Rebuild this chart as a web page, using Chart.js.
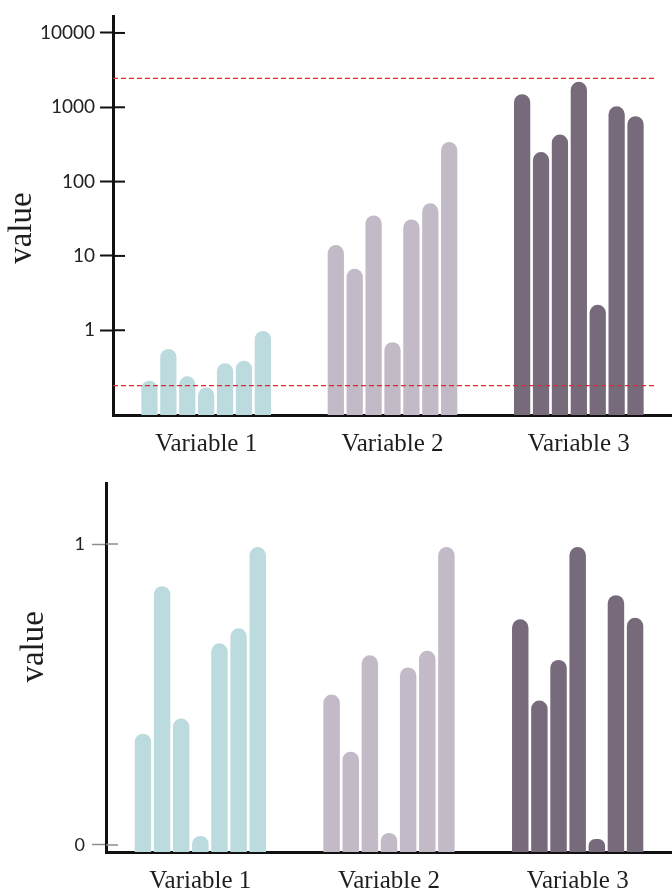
<!DOCTYPE html>
<html>
<head>
<meta charset="utf-8">
<script src="https://cdn.jsdelivr.net/npm/chart.js@4"></script>
<style>
  html, body { margin: 0; padding: 0; background: #fff; }
  canvas { display: block; }
</style>
</head>
<body>
<canvas id="logChart" width="672" height="460"></canvas>
<canvas id="linChart" width="672" height="432"></canvas>
<script>
// categories on the x axis
const categories = ["Variable 1", "Variable 2", "Variable 3"];

// top panel (log scale), 7 samples per variable
const logVar1 = [0.21, 0.56, 0.24, 0.17, 0.36, 0.39, 0.98];
const logVar2 = [14, 6.7, 35, 0.69, 31, 51, 340];
const logVar3 = [1500, 250, 430, 2200, 2.2, 1030, 760];
const logTicks = [1, 10, 100, 1000, 10000];
const logCutoffs = [2450, 0.18];

// bottom panel (normalised 0..1)
const linVar1 = [0.37, 0.86, 0.42, 0.03, 0.67, 0.72, 0.99];
const linVar2 = [0.5, 0.31, 0.63, 0.04, 0.59, 0.645, 0.99];
const linVar3 = [0.75, 0.48, 0.615, 0.99, 0.02, 0.83, 0.755];
const linTicks = [0, 1];

const barColors = ["#bcdbdf", "#c2bac6", "#776a7b"];

// draws the part of each y tick that crosses to the right of the axis
const crossTicks = {
  id: "crossTicks",
  afterDraw(chart, args, opts) {
    const y = chart.scales.y;
    const ctx = chart.ctx;
    ctx.save();
    ctx.strokeStyle = opts.color;
    ctx.lineWidth = opts.width;
    y.ticks.forEach((t) => {
      const py = y.getPixelForValue(t.value);
      ctx.beginPath();
      ctx.moveTo(y.right, py);
      ctx.lineTo(y.right + opts.length, py);
      ctx.stroke();
    });
    ctx.restore();
  },
};

// red dashed cut-off lines
const cutoffLines = {
  id: "cutoffLines",
  afterDatasetsDraw(chart, args, opts) {
    if (!opts.values) return;
    const { ctx, chartArea } = chart;
    const y = chart.scales.y;
    ctx.save();
    ctx.setLineDash([5, 3]);
    ctx.strokeStyle = "#e0262a";
    ctx.lineWidth = 1.4;
    opts.values.forEach((v) => {
      const py = y.getPixelForValue(v);
      ctx.beginPath();
      ctx.moveTo(chartArea.left, py);
      ctx.lineTo(chartArea.right - 17, py);
      ctx.stroke();
    });
    ctx.restore();
  },
};

function buildDatasets(a, b, c, base) {
  return a.map((_, i) => ({
    data: [a[i], b[i], c[i]],
    backgroundColor: barColors,
    borderRadius: 9,
    borderSkipped: "start",
    base: base,
    barPercentage: 0.86,
    categoryPercentage: 0.71,
  }));
}

const serif = "'Liberation Serif', 'Times New Roman', serif";
const sans = "Lato, 'Open Sans', sans-serif";

function makeChart(canvasId, cfg) {
  return new Chart(document.getElementById(canvasId), {
    type: "bar",
    data: {
      labels: categories,
      datasets: buildDatasets(cfg.v1, cfg.v2, cfg.v3, cfg.min),
    },
    options: {
      responsive: false,
      animation: false,
      events: [],
      layout: { padding: { top: cfg.padTop, left: 0, right: 0, bottom: 0 } },
      scales: {
        x: {
          grid: { display: false, drawTicks: false },
          border: { display: true, color: "#111", width: 3 },
          ticks: {
            color: "#1e1e1e",
            padding: 14,
            font: { family: serif, size: 25 },
          },
          afterFit(scale) {
            scale.height = cfg.xHeight;
          },
        },
        y: {
          type: cfg.type,
          min: cfg.min,
          max: cfg.max,
          grid: {
            display: true,
            drawOnChartArea: false,
            drawTicks: true,
            tickLength: cfg.tickLength,
            tickColor: cfg.tickColor,
            tickWidth: cfg.tickWidth,
          },
          border: { display: true, color: "#111", width: 3 },
          ticks: {
            color: "#222",
            padding: cfg.labelPad,
            font: { family: sans, size: cfg.tickFont },
            callback: (v) => String(v),
          },
          afterBuildTicks(scale) {
            scale.ticks = cfg.ticks.map((v) => ({ value: v }));
          },
          afterFit(scale) {
            scale.width = cfg.yWidth;
          },
          title: {
            display: true,
            // surrounding spaces nudge the centred word along the axis
            text: cfg.title,
            color: "#1e1e1e",
            padding: { top: cfg.titlePad, bottom: 0 },
            font: { family: serif, size: 33 },
          },
        },
      },
      plugins: {
        legend: { display: false },
        tooltip: { enabled: false },
        crossTicks: { color: cfg.tickColor, width: cfg.tickWidth, length: 12 },
        cutoffLines: { values: cfg.cutoffs },
      },
    },
    plugins: [crossTicks, cutoffLines],
  });
}

makeChart("logChart", {
  type: "logarithmic",
  v1: logVar1, v2: logVar2, v3: logVar3,
  min: 0.0724, max: 16700,
  ticks: logTicks,
  cutoffs: logCutoffs,
  padTop: 16, xHeight: 45, yWidth: 113,
  tickLength: 13, tickColor: "#111", tickWidth: 2,
  labelPad: 5, tickFont: 19, titlePad: 3,
  title: "value   ",
});

makeChart("linChart", {
  type: "linear",
  v1: linVar1, v2: linVar2, v3: linVar3,
  min: -0.0233, max: 1.2027,
  ticks: linTicks,
  cutoffs: null,
  padTop: 23, xHeight: 40, yWidth: 106,
  tickLength: 14, tickColor: "#8c8c8c", tickWidth: 1.5,
  labelPad: 7, tickFont: 18, titlePad: 15,
  title: "     value",
});
</script>
</body>
</html>
